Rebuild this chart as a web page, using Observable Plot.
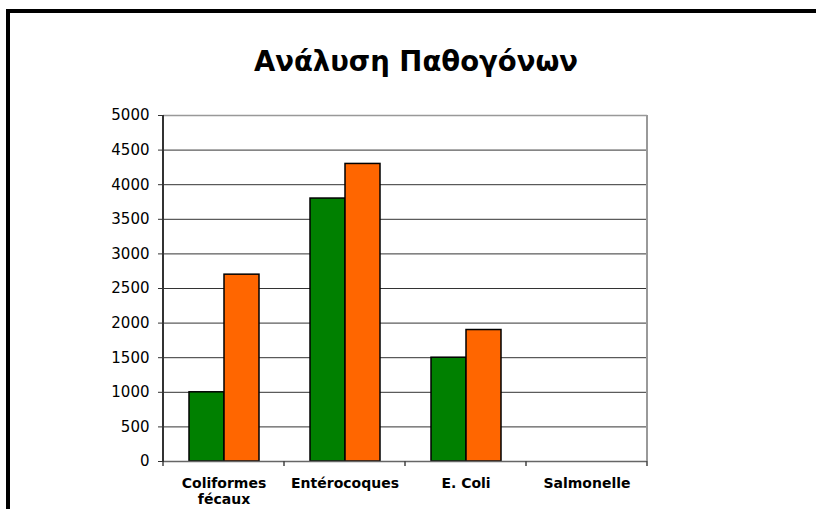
<!DOCTYPE html>
<html>
<head>
<meta charset="utf-8">
<script src="https://cdn.jsdelivr.net/npm/d3@7"></script>
<script src="https://cdn.jsdelivr.net/npm/@observablehq/plot@0.6"></script>
<style>
  html, body { margin: 0; padding: 0; background: #fff; }
  #wrap { position: relative; width: 816px; height: 509px; overflow: hidden; background: #fff; }
  #border { position: absolute; left: 6px; top: 9px; width: 900px; height: 700px; border: 4px solid #000; box-sizing: border-box; }
  #title { position: absolute; top: 49px; left: 16px; width: 800px; text-align: center; font-family: "DejaVu Sans", sans-serif; font-weight: bold; font-size: 27.5px; line-height: 24px; color: #000; }
  #chart { position: absolute; top: 100px; left: 0; }
</style>
</head>
<body>
<div id="wrap">
  <div id="border"></div>
  <div id="title">Ανάλυση Παθογόνων</div>
  <div id="chart"></div>
</div>
<script>
const categories = ["Coliformes\nfécaux", "Entérocoques", "E. Coli", "Salmonelle"];
const seriesNames = ["Σειρά 1", "Σειρά 2"];
const series1 = [1000, 3800, 1500, null];
const series2 = [2700, 4300, 1900, null];
const yTicks = [0, 500, 1000, 1500, 2000, 2500, 3000, 3500, 4000, 4500, 5000];
const colors = ["#008000", "#ff6600"];

const rows1 = categories.map((c, i) => ({category: c, value: series1[i]}));
const rows2 = categories.map((c, i) => ({category: c, value: series2[i]}));

const plot = Plot.plot({
  width: 816,
  height: 409,
  marginTop: 15,
  marginBottom: 48,
  marginLeft: 163,
  marginRight: 169,
  style: {fontFamily: "DejaVu Sans, sans-serif", background: "transparent"},
  x: {domain: categories, padding: 0},
  y: {domain: [0, 5000]},
  marks: [
    Plot.ruleY(yTicks.filter(t => t > 0 && t < 5000), {stroke: "#333", strokeWidth: 1}),
    Plot.ruleY([5000], {stroke: "#999", strokeWidth: 1.5}),
    Plot.barY(rows1, {x: "category", y: "value", fill: colors[0], stroke: "#000", strokeWidth: 1.5, insetLeft: 26, insetRight: 60}),
    Plot.barY(rows2, {x: "category", y: "value", fill: colors[1], stroke: "#000", strokeWidth: 1.5, insetLeft: 61, insetRight: 25}),
    Plot.ruleY([0], {stroke: "#666", strokeWidth: 1.5}),
    Plot.axisY({ticks: yTicks, tickFormat: d => String(d), tickSize: 5, tickPadding: 9, fontSize: 15, label: null, stroke: "#333"}),
    Plot.axisX({tickSize: 0, tickPadding: 15, fontSize: 14, fontWeight: "bold", lineHeight: 1.15, label: null})
  ]
});
document.getElementById("chart").appendChild(plot);

// axis lines and category boundary ticks drawn from the plot's own scales
const xs = plot.scale("x");
const ys = plot.scale("y");
const svg = d3.select(plot);
const edges = categories.map(c => xs.apply(c)).concat([xs.apply(categories[categories.length - 1]) + xs.bandwidth]);
const y0 = ys.apply(0), yTop = ys.apply(5000);
svg.append("g").selectAll("line").data(edges).join("line")
  .attr("x1", d => d).attr("x2", d => d)
  .attr("y1", y0).attr("y2", y0 + 5)
  .attr("stroke", "#444").attr("stroke-width", 1.5);
// right border (gray)
svg.append("line")
  .attr("x1", edges[edges.length - 1]).attr("x2", edges[edges.length - 1])
  .attr("y1", yTop).attr("y2", y0)
  .attr("stroke", "#999").attr("stroke-width", 2);
// left axis line (dark)
svg.append("line")
  .attr("x1", edges[0]).attr("x2", edges[0])
  .attr("y1", yTop).attr("y2", y0 + 1)
  .attr("stroke", "#333").attr("stroke-width", 2);
</script>
</body>
</html>
